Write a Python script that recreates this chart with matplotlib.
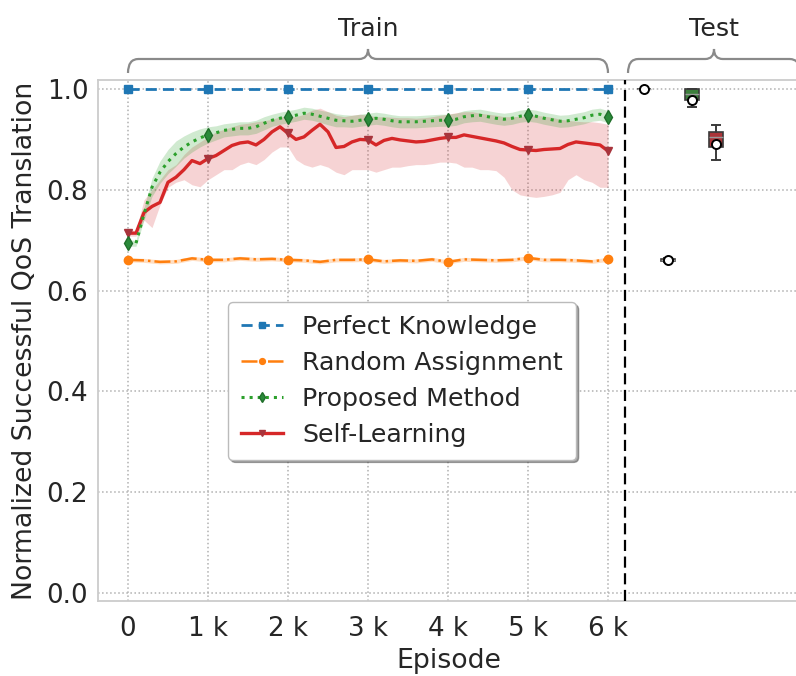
import numpy as np
import matplotlib
matplotlib.use("Agg")
import matplotlib.pyplot as plt
from matplotlib.path import Path
from matplotlib.patches import PathPatch
from matplotlib.transforms import blended_transform_factory

plt.rcParams["font.family"] = ["DejaVu Sans"]
plt.rcParams["font.size"] = 18.2

# ---------------- data ----------------
episodes = np.arange(0, 6001, 100)          # 0 .. 6000, step 100
episodes_ra = np.arange(0, 6001, 200)       # random-assignment trace, step 200
episodes_pk = np.arange(0, 6001, 1000)

pk_mean = [1.0, 1.0, 1.0, 1.0, 1.0, 1.0, 1.0]

ra_mean = [0.661, 0.660, 0.657, 0.658, 0.664, 0.661, 0.661, 0.664, 0.662, 0.663,
           0.661, 0.660, 0.657, 0.661, 0.661, 0.662, 0.658, 0.660, 0.659, 0.662,
           0.657, 0.662, 0.661, 0.660, 0.661, 0.665, 0.661, 0.661, 0.660, 0.658,
           0.662]
ra_spread = [0.004] * 31

pm_mean = [0.694, 0.694, 0.752, 0.805, 0.835, 0.856, 0.872, 0.885, 0.895, 0.903,
           0.909, 0.913, 0.918, 0.920, 0.922, 0.922, 0.925, 0.932, 0.938, 0.942,
           0.945, 0.948, 0.952, 0.950, 0.946, 0.942, 0.938, 0.937, 0.936, 0.938,
           0.940, 0.942, 0.940, 0.937, 0.935, 0.935, 0.935, 0.936, 0.937, 0.938,
           0.938, 0.940, 0.945, 0.947, 0.948, 0.945, 0.942, 0.940, 0.942, 0.946,
           0.948, 0.946, 0.942, 0.939, 0.936, 0.937, 0.940, 0.943, 0.948, 0.950,
           0.945]
pm_spread = [0.006, 0.006, 0.012, 0.018, 0.022, 0.024, 0.025, 0.022, 0.020, 0.018,
             0.016, 0.014, 0.013, 0.013, 0.013, 0.013, 0.013, 0.013, 0.012, 0.012,
             0.012, 0.012, 0.012, 0.012, 0.012, 0.013, 0.013, 0.012, 0.012, 0.012,
             0.012, 0.012, 0.012, 0.012, 0.012, 0.012, 0.012, 0.012, 0.012, 0.012,
             0.012, 0.012, 0.012, 0.012, 0.012, 0.012, 0.012, 0.012, 0.012, 0.012,
             0.012, 0.012, 0.012, 0.012, 0.012, 0.012, 0.012, 0.012, 0.012, 0.012,
             0.012]

sl_mean = [0.714, 0.714, 0.755, 0.767, 0.775, 0.815, 0.825, 0.840, 0.858, 0.852,
           0.862, 0.868, 0.878, 0.888, 0.893, 0.895, 0.889, 0.900, 0.915, 0.925,
           0.912, 0.900, 0.905, 0.918, 0.930, 0.915, 0.884, 0.886, 0.895, 0.900,
           0.899, 0.889, 0.898, 0.902, 0.899, 0.897, 0.895, 0.896, 0.899, 0.902,
           0.904, 0.904, 0.909, 0.906, 0.903, 0.900, 0.897, 0.893, 0.886, 0.880,
           0.879, 0.878, 0.880, 0.881, 0.882, 0.890, 0.895, 0.893, 0.891, 0.889,
           0.877]
sl_low = [0.708, 0.708, 0.740, 0.725, 0.770, 0.805, 0.815, 0.820, 0.810, 0.806,
          0.820, 0.830, 0.840, 0.840, 0.850, 0.855, 0.850, 0.860, 0.875, 0.885,
          0.885, 0.860, 0.850, 0.845, 0.850, 0.845, 0.835, 0.830, 0.840, 0.840,
          0.840, 0.835, 0.840, 0.845, 0.845, 0.848, 0.850, 0.850, 0.852, 0.855,
          0.855, 0.853, 0.845, 0.845, 0.840, 0.840, 0.838, 0.825, 0.800, 0.790,
          0.787, 0.785, 0.787, 0.790, 0.795, 0.820, 0.830, 0.820, 0.815, 0.805,
          0.805]
sl_high = [0.720, 0.720, 0.780, 0.800, 0.820, 0.840, 0.850, 0.870, 0.885, 0.895,
           0.905, 0.915, 0.920, 0.925, 0.930, 0.932, 0.935, 0.937, 0.940, 0.945,
           0.945, 0.945, 0.950, 0.958, 0.962, 0.955, 0.948, 0.945, 0.948, 0.950,
           0.948, 0.945, 0.945, 0.944, 0.943, 0.943, 0.942, 0.943, 0.945, 0.948,
           0.950, 0.953, 0.955, 0.955, 0.952, 0.950, 0.948, 0.945, 0.945, 0.946,
           0.947, 0.948, 0.946, 0.944, 0.940, 0.938, 0.936, 0.935, 0.935, 0.933,
           0.930]

# test-phase box statistics (whisker low, q1, median, q3, whisker high, mean)
test_positions = [6450, 6750, 7050, 7350]
test_whislo = [1.000, 0.657, 0.965, 0.859]
test_q1 = [1.000, 0.659, 0.978, 0.884]
test_med = [1.000, 0.661, 0.991, 0.905]
test_q3 = [1.000, 0.662, 1.000, 0.914]
test_whishi = [1.000, 0.664, 1.000, 0.929]
test_mean = [1.000, 0.661, 0.978, 0.891]
test_colors = ["#2f6f9f", "#d9782a", "#3c7f3c", "#ab3539"]

xtick_values = [0, 1000, 2000, 3000, 4000, 5000, 6000]
xtick_labels = ["0", "1 k", "2 k", "3 k", "4 k", "5 k", "6 k"]
ytick_values = [0.0, 0.2, 0.4, 0.6, 0.8, 1.0]

# ---------------- figure ----------------
W, H = 796, 676
fig = plt.figure(figsize=(W / 100, H / 100), dpi=100)
ax = fig.add_axes([98 / W, (H - 601) / H, (800 - 98) / W, 521 / H])
ax.set_xlim(-375, 8400)
ax.set_ylim(-0.0159, 1.0179)

grid_kw = dict(color="#b0b0b0", linestyle=":", linewidth=1.1, zorder=0)
for yv in ytick_values:
    ax.axhline(yv, **grid_kw)
for xv in xtick_values:
    ax.axvline(xv, **grid_kw)

c_pk, c_ra, c_pm, c_sl = "#1f77b4", "#ff7f0e", "#2ca02c", "#d62728"

ra_m = np.array(ra_mean)
ra_s = np.array(ra_spread)
pm_m = np.array(pm_mean)
pm_s = np.array(pm_spread)

ax.fill_between(episodes, sl_low, sl_high, color=c_sl, alpha=0.2, linewidth=0, zorder=2)
ax.fill_between(episodes, pm_m - pm_s, pm_m + pm_s, color=c_pm, alpha=0.22, linewidth=0, zorder=2)
ax.fill_between(episodes_ra, ra_m - ra_s, ra_m + ra_s, color=c_ra, alpha=0.25, linewidth=0, zorder=2)

ax.plot(episodes_pk, pk_mean, color=c_pk, linestyle=(0, (4, 2.2)), linewidth=2,
        marker="s", markersize=6, label="Perfect Knowledge", zorder=4)
ax.plot(episodes_ra, ra_mean, color=c_ra, linestyle="-.", linewidth=1.8,
        marker="o", markersize=6, markevery=5, label="Random Assignment", zorder=4)
ax.plot(episodes, pm_mean, color=c_pm, linestyle=":", linewidth=2.2,
        marker="d", markersize=7, markevery=10, markerfacecolor="#2a8a3a",
        markeredgecolor="#1f6f2a", label="Proposed Method", zorder=4)
ax.plot(episodes, sl_mean, color=c_sl, linestyle="-", linewidth=2.4,
        marker="v", markersize=6, markevery=10, markerfacecolor="#a8343c",
        markeredgecolor="#a8343c", label="Self-Learning", zorder=3)

# separator between training and testing
ax.axvline(6210, color="black", linestyle=(0, (5, 2.5)), linewidth=1.6, zorder=3)

# test boxes
stats = []
for i in range(4):
    stats.append(dict(whislo=test_whislo[i], q1=test_q1[i], med=test_med[i],
                      q3=test_q3[i], whishi=test_whishi[i], mean=test_mean[i],
                      fliers=[]))
bp = ax.bxp(stats, positions=test_positions, widths=180, patch_artist=True,
            showmeans=True, manage_ticks=False,
            boxprops=dict(edgecolor="#3a3a3a", linewidth=1.2),
            whiskerprops=dict(color="#3a3a3a", linewidth=1.4),
            capprops=dict(color="#3a3a3a", linewidth=1.4),
            medianprops=dict(color="#9a9a9a", linewidth=1.0),
            meanprops=dict(marker="o", markerfacecolor="white",
                           markeredgecolor="black", markersize=6.5,
                           markeredgewidth=1.4))
for patch, col in zip(bp["boxes"], test_colors):
    patch.set_facecolor(col)
for artist_list in bp.values():
    for a in artist_list:
        a.set_zorder(5)

# axes styling
for side in ["left", "bottom", "top", "right"]:
    ax.spines[side].set_color("#cccccc")
    ax.spines[side].set_linewidth(1.3)
ax.set_xticks(xtick_values)
ax.set_xticklabels(xtick_labels, fontsize=18.8)
ax.set_yticks(ytick_values)
ax.set_yticklabels([f"{v:.1f}" for v in ytick_values], fontsize=18.8)
ax.tick_params(axis="x", length=0, pad=11, colors="#262626")
ax.tick_params(axis="y", length=0, pad=7, colors="#262626")
ax.set_xlabel("Episode", color="#262626", labelpad=4, fontsize=19.3)
ax.set_ylabel("Normalized Successful QoS Translation", color="#262626",
              labelpad=6, fontsize=19.3)

leg = ax.legend(loc="upper left", bbox_to_anchor=(0.185, 0.574), borderaxespad=0,
                shadow=True, fancybox=True, framealpha=1, edgecolor="#bbbbbb",
                labelspacing=0.48, handlelength=1.7, handletextpad=0.75,
                borderpad=0.5, markerscale=0.7)
for t in leg.get_texts():
    t.set_color("#262626")

# braces over the training and testing phases
trans = blended_transform_factory(ax.transData, ax.transAxes)


def brace(x0, x1, xc, y_tip, y_mid, y_top, r_end, r_mid):
    verts = [(x0, y_tip), (x0, y_mid), (x0 + r_end, y_mid),
             (xc - r_mid, y_mid), (xc, y_mid), (xc, y_top),
             (xc, y_mid), (xc + r_mid, y_mid),
             (x1 - r_end, y_mid), (x1, y_mid), (x1, y_tip)]
    codes = [Path.MOVETO, Path.CURVE3, Path.CURVE3,
             Path.LINETO, Path.CURVE3, Path.CURVE3,
             Path.CURVE3, Path.CURVE3,
             Path.LINETO, Path.CURVE3, Path.CURVE3]
    p = PathPatch(Path(verts, codes), transform=trans, fill=False,
                  edgecolor="#8a8a8a", linewidth=1.6, clip_on=False)
    ax.add_patch(p)


y_tip = (601 - 73) / 521
y_mid = (601 - 59) / 521
y_top = (601 - 49) / 521
brace(0, 6000, 3000, y_tip, y_mid, y_top, 130, 110)
brace(6250, 8400, 7325, y_tip, y_mid, y_top, 130, 110)

y_txt = (601 - 29) / 521
ax.text(3000, y_txt, "Train", transform=trans, ha="center", va="center", color="#262626")
ax.text(7325, y_txt, "Test", transform=trans, ha="center", va="center", color="#262626")

fig.savefig("out.png", dpi=100)
